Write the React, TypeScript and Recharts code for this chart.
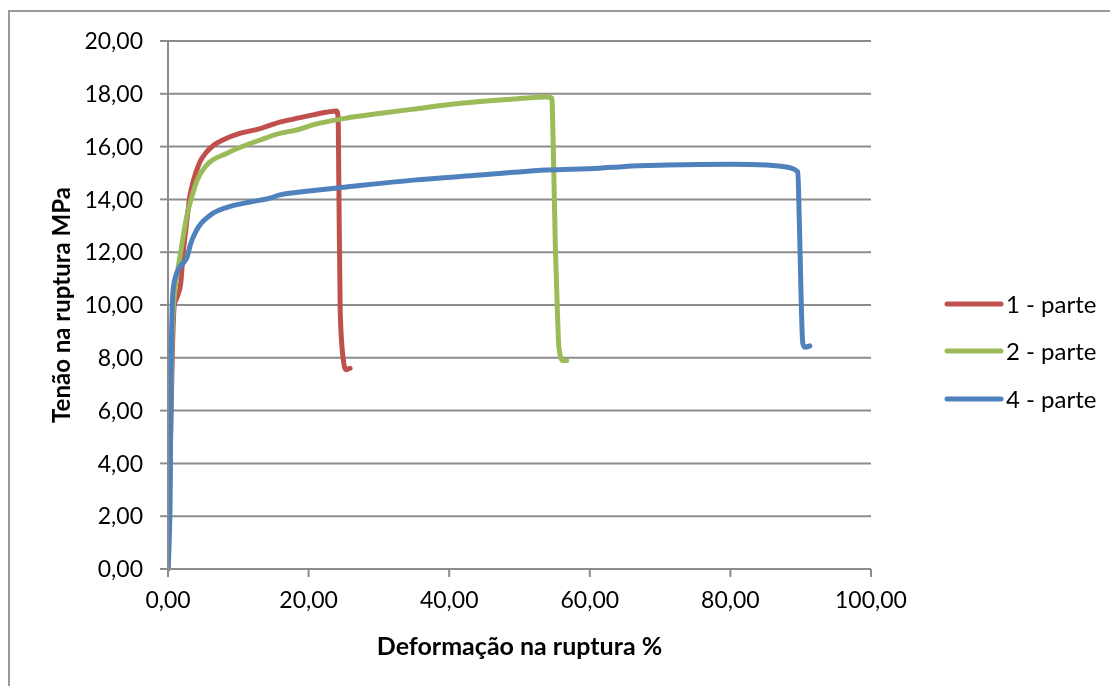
import React from 'react';
import { LineChart, Line, XAxis, YAxis, CartesianGrid, Legend } from 'recharts';

type Pt = { x: number; y: number };

// Deformação (%) / tensão (MPa) samples for each specimen
const parte1: Pt[] = [
  { x: 0, y: 0 }, { x: 0.3, y: 4 }, { x: 0.6, y: 8 }, { x: 0.9, y: 10.0 },
  { x: 1.3, y: 10.3 }, { x: 1.8, y: 10.8 }, { x: 2.1, y: 11.8 }, { x: 2.6, y: 13.0 },
  { x: 3.1, y: 14.1 }, { x: 3.6, y: 14.7 }, { x: 4.5, y: 15.4 }, { x: 5.5, y: 15.8 },
  { x: 6.5, y: 16.05 }, { x: 7.8, y: 16.25 }, { x: 10.2, y: 16.5 }, { x: 12.7, y: 16.65 },
  { x: 15.9, y: 16.93 }, { x: 18.0, y: 17.05 }, { x: 20.6, y: 17.2 }, { x: 22.5, y: 17.3 },
  { x: 24.0, y: 17.35 }, { x: 24.2, y: 17.1 }, { x: 24.3, y: 14.7 }, { x: 24.5, y: 9.7 },
  { x: 24.9, y: 8.0 }, { x: 25.3, y: 7.55 }, { x: 25.9, y: 7.6 },
];

const parte2: Pt[] = [
  { x: 0, y: 0 }, { x: 0.3, y: 5 }, { x: 0.6, y: 9 }, { x: 1.0, y: 10.6 },
  { x: 1.5, y: 11.5 }, { x: 2.1, y: 12.5 }, { x: 2.7, y: 13.4 }, { x: 3.4, y: 14.1 },
  { x: 4.1, y: 14.7 }, { x: 5.5, y: 15.3 }, { x: 8.4, y: 15.75 }, { x: 13.1, y: 16.25 },
  { x: 15.9, y: 16.5 }, { x: 18.3, y: 16.63 }, { x: 20.6, y: 16.82 }, { x: 25.4, y: 17.08 },
  { x: 30.0, y: 17.25 }, { x: 34.9, y: 17.42 }, { x: 42.0, y: 17.65 }, { x: 49.1, y: 17.8 },
  { x: 53.9, y: 17.88 }, { x: 54.6, y: 17.84 }, { x: 54.8, y: 16.0 }, { x: 55.1, y: 12.2 },
  { x: 55.4, y: 9.7 }, { x: 55.6, y: 8.4 }, { x: 56.1, y: 7.9 }, { x: 56.7, y: 7.9 },
];

const parte4: Pt[] = [
  { x: 0, y: 0 }, { x: 0.3, y: 2.6 }, { x: 0.4, y: 6.4 }, { x: 0.6, y: 10.0 },
  { x: 0.7, y: 10.5 }, { x: 1.0, y: 11.0 }, { x: 1.7, y: 11.45 }, { x: 2.7, y: 11.8 },
  { x: 3.2, y: 12.3 }, { x: 4.1, y: 12.85 }, { x: 6.0, y: 13.4 }, { x: 8.4, y: 13.7 },
  { x: 11.7, y: 13.9 }, { x: 14.5, y: 14.05 }, { x: 15.9, y: 14.17 }, { x: 18.8, y: 14.28 },
  { x: 25.4, y: 14.47 }, { x: 34.9, y: 14.73 }, { x: 44.4, y: 14.92 }, { x: 53.9, y: 15.11 },
  { x: 61.4, y: 15.18 }, { x: 65.0, y: 15.25 }, { x: 71.0, y: 15.3 }, { x: 80.4, y: 15.33 },
  { x: 85.2, y: 15.3 }, { x: 88.5, y: 15.2 }, { x: 89.6, y: 15.04 }, { x: 89.8, y: 13.2 },
  { x: 90.3, y: 8.55 }, { x: 90.6, y: 8.4 }, { x: 91.3, y: 8.45 },
];

const seriesNames = ['1 - parte', '2 - parte', '4 - parte'];
const seriesColors = ['#C0504D', '#9BBB59', '#4F81BD'];
const xTicks = [0, 20, 40, 60, 80, 100];
const yTicks = [0, 2, 4, 6, 8, 10, 12, 14, 16, 18, 20];

const FONT = 'Lato, "Open Sans", sans-serif';
const GRID = '#8c8c8c';

const fmt = (v: number) => v.toFixed(2).replace('.', ',');

const LegendBox = (props: any) => {
  const payload = props.payload || [];
  return (
    <div style={{ fontFamily: FONT, fontSize: 24, color: '#000' }}>
      {payload.map((entry: any) => (
        <div key={entry.value} style={{ display: 'flex', alignItems: 'center', height: 47.5 }}>
          <svg width={60} height={10}>
            <line x1={3} y1={5} x2={57} y2={5} stroke={entry.color} strokeWidth={5} strokeLinecap="round" />
          </svg>
          <span style={{ marginLeft: 2, lineHeight: 1 }}>{entry.value}</span>
        </div>
      ))}
    </div>
  );
};

const YTitle = (props: any) => {
  const vb = props.viewBox || {};
  const x = (vb.x ?? 0) + 52;
  const y = (vb.y ?? 0) + (vb.height ?? 0) / 2;
  return (
    <text x={x} y={y} transform={`rotate(-90 ${x} ${y})`} textAnchor="middle" dominantBaseline="central"
      fontFamily={FONT} fontWeight={700} fontSize={24} fill="#000">
      Tenão na ruptura MPa
    </text>
  );
};

const XTitle = (props: any) => {
  const vb = props.viewBox || {};
  const x = (vb.x ?? 0) + (vb.width ?? 0) / 2;
  const y = (vb.y ?? 0) + 76;
  return (
    <text x={x} y={y} textAnchor="middle" dominantBaseline="central"
      fontFamily={FONT} fontWeight={700} fontSize={25} fill="#000">
      Deformação na ruptura %
    </text>
  );
};

export default function App() {
  const tickStyle = { fontFamily: FONT, fontSize: 23, fill: '#000' };
  return (
    <div style={{ position: 'relative', width: 1094, height: 678, fontFamily: FONT }}>
      <div style={{ position: 'fixed', left: 8, top: 10, width: 1300, height: 900, border: '2px solid #9a9a9a', pointerEvents: 'none' }} />
      <LineChart width={1094} height={678} margin={{ top: 33, right: 231, bottom: 27, left: 0 }}>
        <CartesianGrid horizontal vertical={false} stroke={GRID} strokeWidth={2} />
        <XAxis
          type="number"
          dataKey="x"
          domain={[0, 100]}
          ticks={xTicks}
          tickFormatter={fmt}
          height={90}
          tick={tickStyle}
          tickSize={8}
          tickMargin={15}
          stroke={GRID}
          strokeWidth={2}
          allowDataOverflow
          label={{ content: XTitle }}
        />
        <YAxis
          type="number"
          dataKey="y"
          domain={[0, 20]}
          ticks={yTicks}
          tickFormatter={fmt}
          width={160}
          tick={tickStyle}
          tickSize={8}
          tickMargin={17}
          stroke={GRID}
          strokeWidth={2}
          label={{ content: YTitle }}
        />
        <Legend
          layout="vertical"
          align="center"
          verticalAlign="middle"
          content={LegendBox}
          wrapperStyle={{ left: 936, top: 272, width: 166 }}
        />
        <Line data={parte1} dataKey="y" name={seriesNames[0]} type="monotone" stroke={seriesColors[0]} strokeWidth={5}
          strokeLinecap="round" strokeLinejoin="round" dot={false} activeDot={false} isAnimationActive={false} />
        <Line data={parte2} dataKey="y" name={seriesNames[1]} type="monotone" stroke={seriesColors[1]} strokeWidth={5}
          strokeLinecap="round" strokeLinejoin="round" dot={false} activeDot={false} isAnimationActive={false} />
        <Line data={parte4} dataKey="y" name={seriesNames[2]} type="monotone" stroke={seriesColors[2]} strokeWidth={5}
          strokeLinecap="round" strokeLinejoin="round" dot={false} activeDot={false} isAnimationActive={false} />
      </LineChart>
    </div>
  );
}
